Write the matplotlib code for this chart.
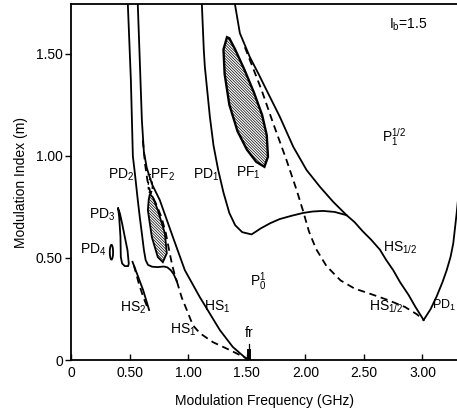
import matplotlib
matplotlib.use("Agg")
import matplotlib.pyplot as plt
from matplotlib.patches import Polygon, Ellipse

plt.rcParams['font.family'] = ['Liberation Sans', 'DejaVu Sans']
plt.rcParams['hatch.linewidth'] = 0.5
plt.rcParams['mathtext.fontset'] = 'custom'
plt.rcParams['mathtext.rm'] = 'Liberation Sans'
plt.rcParams['mathtext.it'] = 'Liberation Sans'

# ---- data (GHz, modulation index) ----
pd2_x = [0.483, 0.509, 0.526, 0.543, 0.568, 0.585, 0.605, 0.620, 0.635, 0.655, 0.690, 0.740, 0.790, 0.820, 0.850, 0.875, 0.902]
pd2_y = [1.742, 1.370, 0.998, 0.915, 0.783, 0.700, 0.610, 0.540, 0.490, 0.466, 0.457, 0.455, 0.458, 0.454, 0.440, 0.420, 0.385]

hs1_dash_x = [0.902, 0.944, 0.987, 1.038, 1.098, 1.209, 1.355, 1.509]
hs1_dash_y = [0.385, 0.305, 0.245, 0.171, 0.132, 0.088, 0.049, 0.005]

hs1_solid_x = [0.568, 0.585, 0.603, 0.620, 0.645, 0.690, 0.756, 0.868, 0.970, 1.098, 1.269, 1.380, 1.509]
hs1_solid_y = [1.742, 1.468, 1.174, 1.020, 0.940, 0.860, 0.783, 0.602, 0.440, 0.308, 0.147, 0.064, 0.0]

pf2_dash_x = [0.611, 0.630, 0.650, 0.675, 0.720, 0.770, 0.808, 0.835, 0.860, 0.880, 0.902]
pf2_dash_y = [1.076, 0.960, 0.880, 0.820, 0.770, 0.700, 0.620, 0.540, 0.470, 0.425, 0.385]

pf2_x = [0.671, 0.697, 0.739, 0.799, 0.816, 0.782, 0.739, 0.688, 0.654, 0.662]
pf2_y = [0.812, 0.797, 0.734, 0.621, 0.523, 0.479, 0.504, 0.602, 0.734, 0.788]

pd3_x = [0.400, 0.409, 0.420, 0.423, 0.434, 0.457, 0.486, 0.491, 0.480, 0.457, 0.434, 0.415, 0.400]
pd3_y = [0.742, 0.701, 0.603, 0.505, 0.473, 0.460, 0.460, 0.473, 0.538, 0.603, 0.669, 0.718, 0.742]

hs2_x = [0.523, 0.571, 0.614, 0.665]
hs2_y = [0.481, 0.408, 0.342, 0.245]
hs2_dash_x = [0.534, 0.577, 0.614, 0.648]
hs2_dash_y = [0.465, 0.375, 0.310, 0.261]

pd4_center = (0.343, 0.528)
pd4_size = (0.028, 0.072)

pf2_top_center = (0.675, 0.852)
pf2_top_size = (0.035, 0.07)

pf1_x = [1.33, 1.30, 1.31, 1.35, 1.42, 1.50, 1.58, 1.65, 1.68, 1.67, 1.63, 1.56, 1.48, 1.40, 1.35]
pf1_y = [1.58, 1.52, 1.40, 1.25, 1.12, 1.03, 0.97, 0.946, 0.995, 1.10, 1.20, 1.31, 1.42, 1.52, 1.575]

pd1_x = [1.115, 1.132, 1.141, 1.184, 1.215, 1.255, 1.300, 1.350, 1.400, 1.460, 1.540, 1.620, 1.700,
         1.780, 1.880, 1.980, 2.060, 2.150, 2.250, 2.352, 2.420, 2.490, 2.560, 2.637, 2.690,
         2.750, 2.810, 2.880, 2.940, 3.010]
pd1_y = [1.747, 1.517, 1.435, 1.190, 1.050, 0.930, 0.820, 0.720, 0.660, 0.626, 0.615, 0.645, 0.670,
         0.690, 0.706, 0.720, 0.727, 0.730, 0.725, 0.709, 0.675, 0.630, 0.590, 0.540, 0.490,
         0.440, 0.380, 0.320, 0.260, 0.196]

pd1r_x = [3.010, 3.070, 3.120, 3.170, 3.207, 3.240, 3.263, 3.292, 3.320]
pd1r_y = [0.196, 0.250, 0.310, 0.380, 0.440, 0.505, 0.571, 0.718, 0.880]

hs12_x = [1.397, 1.440, 1.526, 1.600, 1.668, 1.782, 1.896, 2.010, 2.124, 2.238, 2.352]
hs12_y = [1.745, 1.600, 1.482, 1.400, 1.321, 1.190, 1.044, 0.930, 0.848, 0.774, 0.709]

hs12_dash_x = [1.483, 1.626, 1.725, 1.839, 1.925, 1.980, 2.030, 2.090, 2.180, 2.300, 2.420, 2.550, 2.700, 2.850, 2.950, 3.010]
hs12_dash_y = [1.531, 1.321, 1.158, 0.978, 0.832, 0.730, 0.630, 0.545, 0.460, 0.390, 0.350, 0.325, 0.295, 0.260, 0.225, 0.196]

fr_x = 1.52
fr_height = 0.08

xticks = [0, 0.5, 1.0, 1.5, 2.0, 2.5, 3.0]
xticklabels = ["0", "0.50", "1.00", "1.50", "2.00", "2.50", "3.00"]
yticks = [0, 0.5, 1.0, 1.5]
yticklabels = ["0", "0.50", "1.00", "1.50"]

# ---- figure ----
fig = plt.figure(figsize=(4.57, 4.12), dpi=100)
ax = fig.add_axes([0.156, 0.126, 0.844, 0.864])
ax.set_xlim(0, 3.295)
ax.set_ylim(0, 1.742)

lw = 1.3
dash = (0, (4, 2.6))
k = 'black'

ax.plot(pd2_x, pd2_y, color=k, lw=lw)
ax.plot(hs1_dash_x, hs1_dash_y, color=k, lw=lw, linestyle=dash)
ax.plot(hs1_solid_x, hs1_solid_y, color=k, lw=lw)
ax.plot(pf2_dash_x, pf2_dash_y, color=k, lw=lw, linestyle=dash)
ax.add_patch(Polygon(list(zip(pf2_x, pf2_y)), closed=True, facecolor='white',
                     edgecolor=k, lw=lw, hatch='\\' * 12))
ax.add_patch(Ellipse(pf2_top_center, pf2_top_size[0], pf2_top_size[1], facecolor='none',
                     edgecolor=k, lw=1.0, linestyle=(0, (2, 1.5))))
ax.plot(pd3_x, pd3_y, color=k, lw=lw)
ax.plot(hs2_x, hs2_y, color=k, lw=lw)
ax.plot(hs2_dash_x, hs2_dash_y, color=k, lw=lw, linestyle=dash)
ax.add_patch(Ellipse(pd4_center, pd4_size[0], pd4_size[1], facecolor='none', edgecolor=k, lw=lw))
ax.add_patch(Polygon(list(zip(pf1_x, pf1_y)), closed=True, facecolor='white',
                     edgecolor=k, lw=lw + 0.4, hatch='\\' * 12))
ax.plot(pd1_x, pd1_y, color=k, lw=lw)
ax.plot(pd1r_x, pd1r_y, color=k, lw=lw)
ax.plot(hs12_x, hs12_y, color=k, lw=lw)
ax.plot(hs12_dash_x, hs12_dash_y, color=k, lw=lw, linestyle=dash)
ax.plot([fr_x, fr_x], [0, fr_height], color=k, lw=0.9)
ax.plot([fr_x, fr_x], [0, fr_height * 0.55], color=k, lw=2.8)

fs = 10
def lab(x, y, s, ha='center', size=fs):
    ax.text(x, y, s, fontsize=size, ha=ha, va='center')

lab(0.424, 0.905, "PD$_2$")
lab(0.637, 0.905, "-PF$_2$", ha='left')
lab(1.15, 0.905, "PD$_1$")
lab(1.517, 0.915, "PF$_1$")
lab(2.876, 1.639, "I$_b$=1.5")
lab(2.76, 1.09, "P$_1^{1/2}$")
lab(0.261, 0.709, "PD$_3$")
lab(0.184, 0.538, "PD$_4$")
lab(0.526, 0.254, "HS$_2$")
lab(0.953, 0.147, "HS$_1$")
lab(1.244, 0.259, "HS$_1$")
lab(1.594, 0.385, "P$_0^1$")
lab(1.517, 0.135, "fr")
lab(2.808, 0.548, "HS$_{1/2}$")
lab(2.688, 0.259, "HS$_{1/2}$")
lab(3.085, 0.265, "PD$_1$", ha='left', size=9)

ax.set_xticks(xticks)
ax.set_xticklabels(xticklabels)
ax.set_yticks(yticks)
ax.set_yticklabels(yticklabels)
ax.tick_params(axis='x', direction='in', length=4, width=1, labelsize=fs, pad=4)
ax.tick_params(axis='y', direction='out', length=4, width=1, labelsize=fs, pad=2)
for s in ['left', 'bottom', 'top']:
    ax.spines[s].set_linewidth(1.3)
ax.spines['right'].set_visible(False)

ax.set_xlabel("Modulation Frequency (GHz)", fontsize=fs, labelpad=10)
ax.set_ylabel("Modulation Index (m)", fontsize=fs, labelpad=6)

fig.savefig("out.png", dpi=100)
